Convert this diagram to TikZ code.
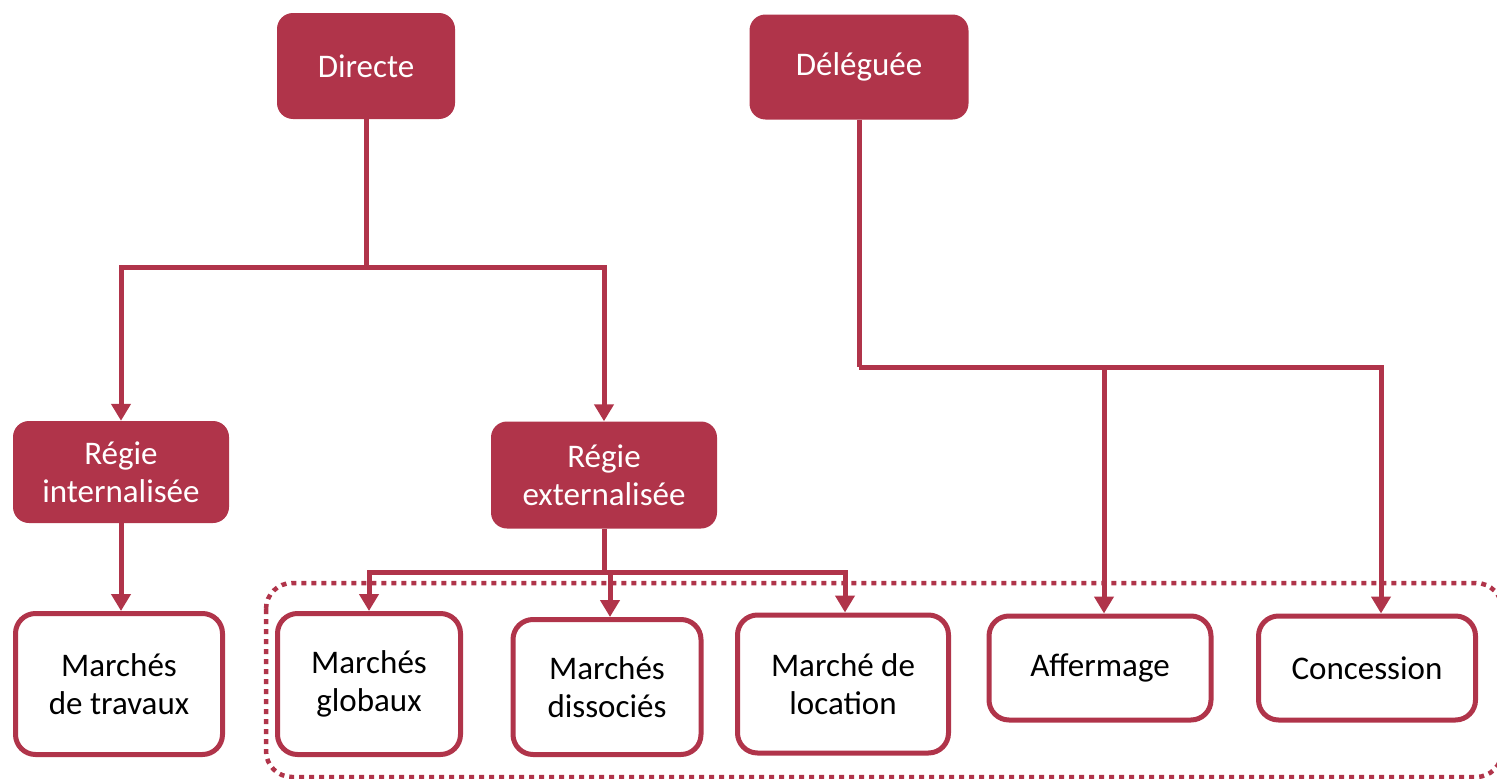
\documentclass[tikz,border=0pt]{standalone}
\usepackage{fontspec}
\setmainfont{Carlito}
\usetikzlibrary{arrows.meta}
\definecolor{wine}{RGB}{176,52,74}
\begin{document}
\begin{tikzpicture}[x=1pt,y=-1pt,
  every node/.style={font=\fontsize{33}{38}\selectfont, align=center, inner sep=0pt},
  filledbox/.style={fill=wine, text=white, rounded corners=16pt},
  openbox/.style={draw=wine, line width=5pt, fill=white, text=black, rounded corners=20pt},
  link/.style={draw=wine, line width=5pt},
  arr/.style={link, -{Triangle[length=17pt,width=19pt]}},
  group/.style={draw=wine, line width=4.5pt, dash pattern=on 5pt off 5pt, rounded corners=26pt}
]
\useasboundingbox (0,0) rectangle (1497,779);

% dotted frame around the external procurement options
\draw[group] (266,583) rectangle (1502,777);

% top level
\node[filledbox, minimum width=178pt, minimum height=106pt] (directe) at (366,66) {Directe};
\node[filledbox, minimum width=219pt, minimum height=105pt] (deleguee) at (859,67) {Déléguée};

% second level
\node[filledbox, minimum width=216pt, minimum height=102pt] (regint) at (121,472) {Régie\\internalisée};
\node[filledbox, minimum width=226pt, minimum height=107pt] (regext) at (604,475) {Régie\\externalisée};

% leaves
\node[openbox, minimum width=207pt, minimum height=141pt] (travaux) at (119,684) {Marchés\\de travaux};
\node[openbox, minimum width=183pt, minimum height=141pt] (globaux) at (369,684) {Marchés\\globaux};
\node[openbox, minimum width=188pt, minimum height=135pt] (dissocies) at (607,687) {Marchés\\dissociés};
\node[openbox, minimum width=211pt, minimum height=138pt] (location) at (843,684) {Marché de\\location};
\node[openbox, minimum width=222pt, minimum height=104pt] (affermage) at (1100,668) {Affermage};
\node[openbox, minimum width=217pt, minimum height=104pt] (concession) at (1367,668) {Concession};

% junction points
\coordinate (jd) at (366,267);
\coordinate (jl) at (859,367);
\coordinate (je) at (604,572);

% Directe branch
\draw[link] (directe.south) -- (jd);
\draw[arr] (jd) -| (regint.north);
\draw[arr] (jd) -| (regext.north);

% Déléguée branch
\draw[link] (deleguee.south) -- (jl);
\draw[arr] (jl) -| ([xshift=4pt]affermage.north);
\draw[arr] (jl) -| ([xshift=14pt]concession.north);

% Régie internalisée
\draw[arr] (regint.south) -- (regint.south |- travaux.north);

% Régie externalisée
\draw[link] (regext.south) -- (je);
\draw[arr] (je) -| (globaux.north);
\draw[arr] (je) -| ([xshift=3pt]dissocies.north);
\draw[arr] (je) -| ([xshift=2pt]location.north);
\end{tikzpicture}
\end{document}
